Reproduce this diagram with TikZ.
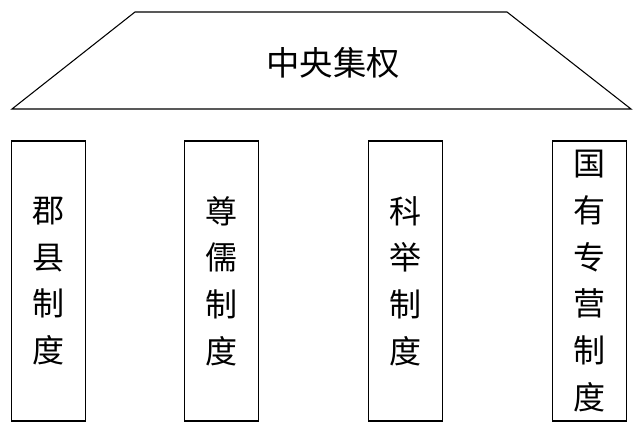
\documentclass[tikz,border=0pt]{standalone}
\usepackage{fontspec}
\newfontfamily\cjk{Noto Sans CJK SC}

\begin{document}
\begin{tikzpicture}[x=0.75pt,y=-0.75pt,
		pillar/.style={draw, line width=0.8pt, minimum width=55.5pt, minimum height=210pt, inner sep=0pt, align=center, font=\cjk\fontsize{24}{35}\selectfont}]
			\useasboundingbox (0,0) rectangle (643,434);
			\draw[line width=0.8pt] (135,12) -- (507,12) -- (631,109) -- (12,109) -- cycle;
			\draw (333,63) node [font=\cjk\fontsize{25}{30}\selectfont] (roof) {中央集权};
			\draw (48.7,281) node [pillar] (p1) {郡\\县\\制\\度};
			\draw (221.3,281) node [pillar] (p2) {尊\\儒\\制\\度};
			\draw (405.3,281) node [pillar] (p3) {科\\举\\制\\度};
			\draw (589.5,281) node [pillar] (p4) {国\\有\\专\\营\\制\\度};
		\end{tikzpicture}
\end{document}
